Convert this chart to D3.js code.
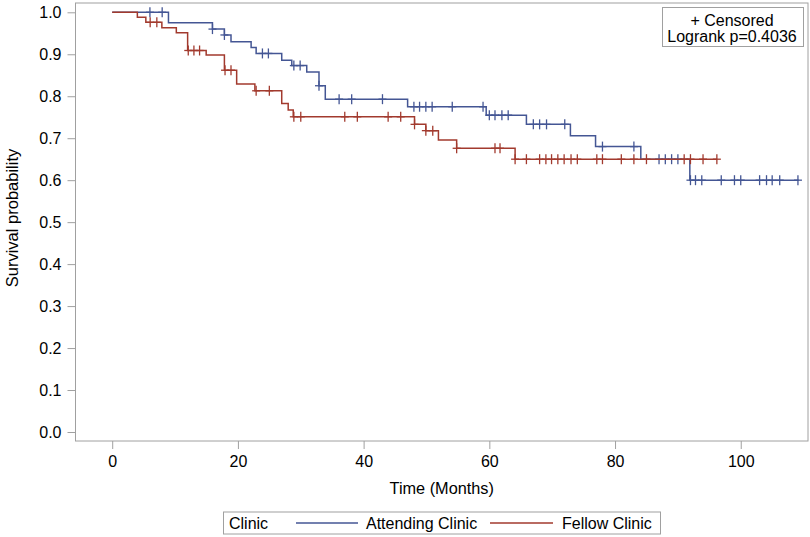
<!DOCTYPE html>
<html><head><meta charset="utf-8">
<script src="https://cdn.jsdelivr.net/npm/d3@7"></script>
<style>body{margin:0;background:#fff}svg{display:block}text{font-family:"Liberation Sans",Arial,sans-serif;fill:#000}</style>
</head><body>
<svg id="c" width="810" height="537"></svg>
<script>
// Data (months, survival after step)
const attendingStepTimes = [8.95,15.95,17.85,18.9,22.1,22.9,26.97,28.57,30.95,32.9,33.9,47.0,59.5,65.9,72.9,76.9,84.1,91.9];
const attendingStepSurv  = [0.975,0.960,0.946,0.930,0.916,0.902,0.886,0.873,0.858,0.825,0.793,0.775,0.755,0.733,0.706,0.680,0.650,0.600];
const attendingCensored  = [6.0,7.95,15.95,17.85,23.9,24.85,28.9,29.9,32.9,36.1,38.1,43.0,48.0,48.9,49.9,50.9,54.1,59.0,60.0,60.9,62.0,63.0,67.0,68.0,69.1,72.0,78.0,83.0,87.0,88.0,89.0,90.0,92.0,92.8,93.8,96.9,99.0,100.0,103.0,104.1,105.0,106.2,109.1];
const attendingEnd = 109.2;

const fellowStepTimes = [4.0,5.35,7.9,10.2,12.0,14.95,17.85,19.8,22.7,26.97,28.0,28.8,48.1,49.9,51.9,54.8,64.1];
const fellowStepSurv  = [0.988,0.976,0.963,0.951,0.909,0.898,0.862,0.829,0.813,0.783,0.767,0.751,0.733,0.718,0.696,0.676,0.650];
const fellowCensored  = [6.04,7.1,12.1,13.0,13.9,17.95,18.9,22.9,25.0,28.9,30.0,37.0,39.0,43.9,45.9,48.1,49.9,51.0,54.8,60.9,61.7,64.1,65.9,68.0,69.0,69.9,70.9,71.9,73.0,74.0,77.1,78.0,81.0,83.0,85.0,91.0,92.0,94.0,96.2];
const fellowEnd = 96.2;

const xTicks = [0,20,40,60,80,100];
const yTicks = [0.0,0.1,0.2,0.3,0.4,0.5,0.6,0.7,0.8,0.9,1.0];
const groups = ["Attending Clinic","Fellow Clinic"];
const colors = ["#445694","#A23A2E"];

const svg = d3.select("#c");
const L=75.5, R=808, T=3, B=441;
const x = d3.scaleLinear().domain([-5.84,110.7]).range([L,R]);
const y = d3.scaleLinear().domain([0,1]).range([432,12.3]);
const gray = "#a0a0a0";
const FS = "16px";

// frame
svg.append("rect").attr("x",L).attr("y",T).attr("width",R-L).attr("height",B-T)
  .attr("fill","none").attr("stroke",gray).attr("stroke-width",1);

// axes
const yAxis = d3.axisLeft(y).tickValues(yTicks).tickFormat(d3.format(".1f")).tickSize(8).tickPadding(6);
const gy = svg.append("g").attr("transform",`translate(${L},0)`).call(yAxis);
gy.select(".domain").remove();
gy.selectAll("line").attr("stroke",gray);
gy.selectAll("text").style("font-size",FS).style("font-family","'Liberation Sans',Arial,sans-serif");

const xAxis = d3.axisBottom(x).tickValues(xTicks).tickFormat(d3.format("d")).tickSize(8).tickPadding(7);
const gx = svg.append("g").attr("transform",`translate(0,${B})`).call(xAxis);
gx.select(".domain").remove();
gx.selectAll("line").attr("stroke",gray);
gx.selectAll("text").style("font-size",FS).style("font-family","'Liberation Sans',Arial,sans-serif");

svg.append("text").attr("x",(L+R)/2).attr("y",493.5).attr("text-anchor","middle")
  .style("font-size","16.3px").text("Time (Months)");
svg.append("text").attr("transform",`translate(18,218) rotate(-90)`).attr("text-anchor","middle")
  .style("font-size","16.5px").text("Survival probability");

function stepFn(times, surv){
  return t => { let v=1; for(let i=0;i<times.length;i++){ if(times[i]<=t) v=surv[i]; } return v; };
}
function pathPts(times, surv, end){
  const pts=[[0,1]]; let cur=1;
  times.forEach((t,i)=>{ pts.push([t,cur]); pts.push([t,surv[i]]); cur=surv[i]; });
  pts.push([end,cur]);
  return pts;
}
const series = [
  {times:attendingStepTimes, surv:attendingStepSurv, cens:attendingCensored, end:attendingEnd, color:colors[0]},
  {times:fellowStepTimes, surv:fellowStepSurv, cens:fellowCensored, end:fellowEnd, color:colors[1]}
];
const line = d3.line().x(d=>x(d[0])).y(d=>y(d[1]));
series.forEach(s=>{
  svg.append("path").attr("d",line(pathPts(s.times,s.surv,s.end)))
    .attr("fill","none").attr("stroke",s.color).attr("stroke-width",1.5);
  const f = stepFn(s.times,s.surv);
  const g = svg.append("g").attr("stroke",s.color).attr("stroke-width",1.3);
  s.cens.forEach(t=>{
    const cx=x(t), cy=y(f(t));
    g.append("line").attr("x1",cx).attr("x2",cx).attr("y1",cy-5).attr("y2",cy+5);
    g.append("line").attr("x1",cx-4).attr("x2",cx+4).attr("y1",cy).attr("y2",cy);
  });
});

// inset
svg.append("rect").attr("x",662.5).attr("y",7.5).attr("width",141).attr("height",39)
  .attr("fill","#fff").attr("stroke",gray);
svg.append("text").attr("x",732).attr("y",25.7).attr("text-anchor","middle").style("font-size",FS).text("+ Censored");
svg.append("text").attr("x",732).attr("y",42.4).attr("text-anchor","middle").style("font-size",FS).text("Logrank p=0.4036");

// legend
svg.append("rect").attr("x",223.5).attr("y",512).attr("width",437).attr("height",22)
  .attr("fill","none").attr("stroke",gray);
svg.append("text").attr("x",229).attr("y",529).style("font-size",FS).text("Clinic");
const legX=[[296,358,366],[490,553,562]];
groups.forEach((g,i)=>{
  svg.append("line").attr("x1",legX[i][0]).attr("x2",legX[i][1]).attr("y1",523).attr("y2",523)
    .attr("stroke",colors[i]).attr("stroke-width",1.5);
  svg.append("text").attr("x",legX[i][2]).attr("y",529).style("font-size",FS).text(g);
});
</script>
</body></html>
